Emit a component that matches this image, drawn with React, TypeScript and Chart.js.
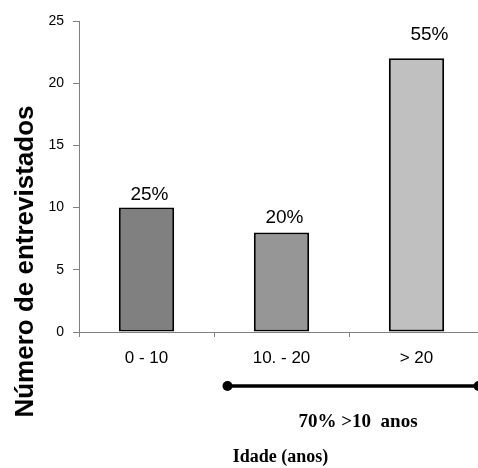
import React, { useEffect, useRef } from 'react';
import { Chart, registerables } from 'chart.js';

Chart.register(...registerables);

const categories = ['0 - 10', '10. - 20', '> 20'];
const counts = [10, 8, 22];
const percentLabels = ['25%', '20%', '55%'];
const barColors = ['#808080', '#969696', '#c0c0c0'];
const yMin = 0;
const yMax = 25;
const yStep = 5;
const yTitle = 'Número de entrevistados';
const xTitle = 'Idade (anos)';
const bracketRange = [0.6, 2.46];
const bracketLabel = '70% >10  anos';

// label nudges in px (dx, dy) relative to bar top center
const labelNudgeX = [3, 3, 13];
const labelNudgeY = [8, 9, 18];

const W = 490;
const H = 468;
const SANS = '"Liberation Sans", Arial, sans-serif';
const SERIF = '"Liberation Serif", "Times New Roman", serif';
const AXIS = '#808080';

const extrasPlugin = {
  id: 'extras',
  afterDraw(chart: any) {
    const ctx = chart.ctx;
    const xs = chart.scales.x;
    const area = chart.chartArea;
    ctx.save();
    ctx.fillStyle = '#000';

    // percentage labels above bars
    const meta = chart.getDatasetMeta(0);
    ctx.font = `19px ${SANS}`;
    ctx.textAlign = 'center';
    ctx.textBaseline = 'alphabetic';
    meta.data.forEach((bar: any, i: number) => {
      ctx.fillText(percentLabels[i], bar.x + labelNudgeX[i], bar.y - labelNudgeY[i]);
    });

    // y axis title
    ctx.save();
    ctx.translate(33, 261.5);
    ctx.rotate(-Math.PI / 2);
    ctx.font = `bold 26px ${SANS}`;
    ctx.textAlign = 'center';
    ctx.fillText(yTitle, 0, 0);
    ctx.restore();

    // bracket line
    const x0 = xs.getPixelForValue(bracketRange[0]);
    const x1 = xs.getPixelForValue(bracketRange[1]);
    const ly = area.bottom + 54;
    ctx.strokeStyle = '#000';
    ctx.lineWidth = 3.5;
    ctx.beginPath();
    ctx.moveTo(x0, ly);
    ctx.lineTo(x1, ly);
    ctx.stroke();
    [x0, x1].forEach((x) => {
      ctx.beginPath();
      ctx.arc(x, ly, 5, 0, Math.PI * 2);
      ctx.fill();
    });

    // bracket label
    ctx.font = `bold 19px ${SERIF}`;
    ctx.textAlign = 'center';
    ctx.fillText(bracketLabel, (x0 + x1) / 2 + 5, area.bottom + 95);

    // x axis title
    ctx.font = `bold 18px ${SERIF}`;
    ctx.fillText(xTitle, (area.left + area.right) / 2 - 1, area.bottom + 130);

    ctx.restore();
  },
};

export default function App() {
  const ref = useRef<HTMLCanvasElement>(null);

  useEffect(() => {
    document.body.style.margin = '0';
    const canvas = ref.current!;
    const chart = new Chart(canvas, {
      type: 'bar',
      data: {
        labels: categories,
        datasets: [
          {
            data: counts,
            backgroundColor: barColors,
            borderColor: '#000',
            borderWidth: 2,
            borderSkipped: false,
            categoryPercentage: 1,
            barPercentage: 0.41,
          },
        ],
      },
      options: {
        responsive: false,
        animation: false,
        devicePixelRatio: 1,
        layout: { padding: { top: 21, right: W - 484, left: 0, bottom: 0 } },
        plugins: {
          legend: { display: false },
          tooltip: { enabled: false },
          title: { display: false },
        },
        scales: {
          x: {
            grid: {
              display: true,
              drawOnChartArea: false,
              drawTicks: true,
              tickLength: 5,
              color: AXIS,
              offset: true,
            },
            border: { display: true, color: AXIS, width: 1 },
            ticks: {
              color: '#000',
              font: { family: SANS, size: 17 },
              padding: 11,
              maxRotation: 0,
            },
            afterFit: (scale: any) => {
              scale.height = H - 332;
            },
          },
          y: {
            min: yMin,
            max: yMax,
            ticks: {
              stepSize: yStep,
              color: '#000',
              font: { family: SANS, size: 14 },
              padding: 9,
            },
            grid: {
              display: true,
              drawOnChartArea: false,
              drawTicks: true,
              tickLength: 6,
              color: AXIS,
            },
            border: { display: true, color: AXIS, width: 1 },
            afterFit: (scale: any) => {
              scale.width = 79;
            },
          },
        },
      },
      plugins: [extrasPlugin],
    });
    return () => chart.destroy();
  }, []);

  return (
    <div style={{ width: 478, height: 468, overflow: 'hidden', position: 'relative', background: '#fff' }}>
      <canvas ref={ref} width={W} height={H} style={{ display: 'block', width: W, height: H }} />
    </div>
  );
}
